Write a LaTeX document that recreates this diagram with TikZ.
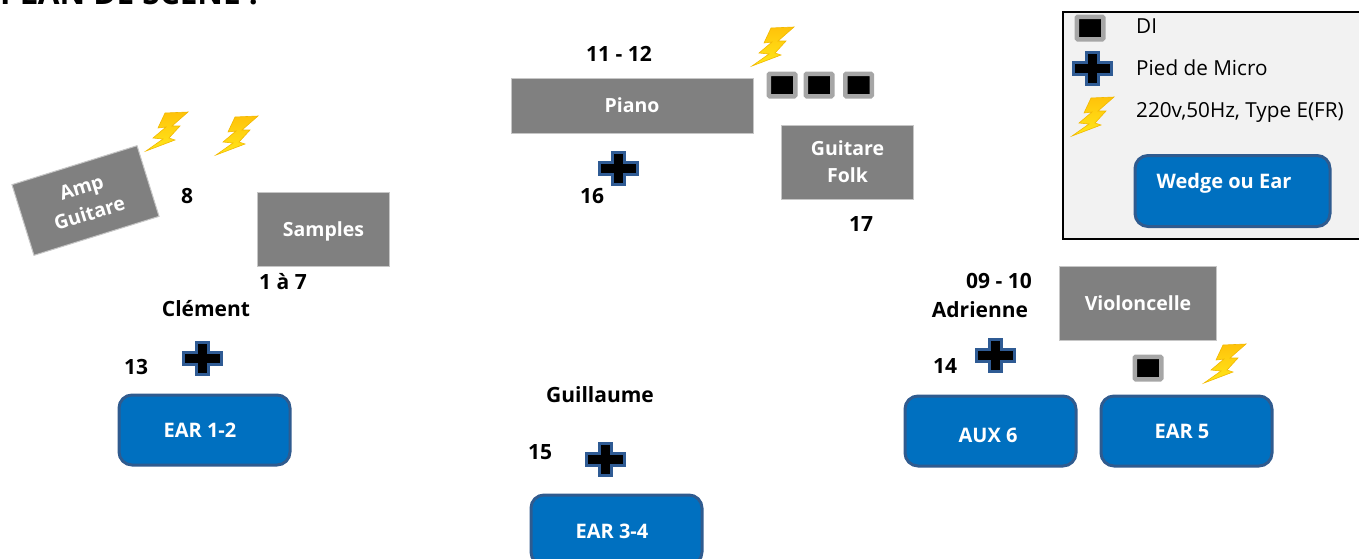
\documentclass[tikz,border=0pt]{standalone}
\usepackage{fontspec}
\setmainfont{Open Sans}
\definecolor{earblue}{HTML}{0070C0}
\definecolor{earedge}{HTML}{2F5B8F}
\definecolor{crossedge}{HTML}{2F5B94}
\definecolor{boxgrey}{HTML}{808080}
\definecolor{boltedge}{HTML}{F2B800}
\definecolor{bolttop}{HTML}{FFC20A}
\definecolor{boltlow}{HTML}{FFE81A}
\tikzset{
    label/.style={font=\bfseries\fontsize{21}{21}\selectfont, inner sep=0pt, text=black},
    legendtext/.style={font=\fontsize{20.7}{21}\selectfont, inner sep=0pt, anchor=west, text=black},
    greybox/.style={fill=boxgrey, draw=boxgrey!45, line width=1pt, inner sep=0pt, align=center,
        text=white, font=\bfseries\fontsize{19.5}{27}\selectfont},
    oneline/.style={text height=14pt, text depth=0pt},
    earbox/.style={fill=earblue, draw=earedge, line width=3pt, rounded corners=13pt, inner sep=0pt,
        minimum width=171pt, minimum height=70pt},
    eartext/.style={text=white, inner sep=0pt, font=\bfseries\fontsize{20}{20}\selectfont},
    dibox/.style={fill=black, draw=black!35, line width=4.5pt, rounded corners=1pt, inner sep=0pt,
        minimum width=26.5pt, minimum height=22.5pt},
    micro/.pic={
        \draw[fill=black, draw=crossedge, line width=3pt]
            (-19,-6) -- (-6,-6) -- (-6,-16) -- (6,-16) -- (6,-6) -- (19,-6)
            -- (19,6) -- (6,6) -- (6,16) -- (-6,16) -- (-6,6) -- (-19,6) -- cycle;
    },
    bolt/.pic={
        \draw[top color=bolttop, bottom color=boltlow, draw=boltedge, line width=0.6pt]
            (21,-20) -- (-2,-19) -- (-9,-4) -- (-1,-5) -- (-14,6) -- (-4,7) -- (-21,19)
            -- (8,8) -- (2,6) -- (13,-6) -- (5,-6) -- cycle;
    },
}
\begin{document}
\begin{tikzpicture}[x=1pt, y=-1pt]
    \path[use as bounding box, clip] (0,0) rectangle (1359,558);

    % titre
    \node[anchor=base west, inner sep=0pt, font=\bfseries\fontsize{31.5}{32}\selectfont] (titre) at (0,4.5) {PLAN DE SCENE :};

    % legende
    \node[fill=black!5, draw=black, line width=2pt, minimum width=320pt, minimum height=227pt,
        anchor=north west, inner sep=0pt] (legende) at (1062,11) {};
    \node[dibox] (legendeDI) at (1090,28) {};
    \pic at (1092,68) {micro};
    \pic at (1093,117) {bolt};
    \node[legendtext] (texteDI) at (1136,26) {DI};
    \node[legendtext] (texteMicro) at (1136,68) {Pied de Micro};
    \node[legendtext] (texteCourant) at (1136,112) {220v,50Hz, Type E(FR)};
    \node[earbox, minimum width=195pt, minimum height=71pt] (wedge) at (1232.5,191) {};
    \node[eartext] (texteWedge) at (1224,183) {Wedge ou Ear};

    % instruments
    \node[greybox, minimum width=131pt, minimum height=74pt, rotate=17.3] (amp) at (85.5,200.5) {Amp\\Guitare};
    \node[greybox, oneline, minimum width=132pt, minimum height=74pt] (samples) at (323.5,229) {Samples};
    \node[greybox, oneline, minimum width=242pt, minimum height=55pt] (piano) at (632,105.5) {Piano};
    \node[greybox, minimum width=132pt, minimum height=74pt] (folk) at (847.5,162) {Guitare\\Folk};
    \node[greybox, oneline, minimum width=157pt, minimum height=74pt] (violoncelle) at (1138,303) {Violoncelle};

    % boitiers DI
    \node[dibox] (diA) at (782,85) {};
    \node[dibox] (diB) at (819,85) {};
    \node[dibox] (diC) at (858.5,85) {};
    \node[dibox] (diD) at (1148,368) {};

    % pieds de micro
    \pic at (202,358) {micro};
    \pic at (618,168) {micro};
    \pic at (605,459) {micro};
    \pic at (995,355) {micro};

    % prises de courant
    \pic at (167,132) {bolt};
    \pic at (237,136) {bolt};
    \pic at (773,47) {bolt};
    \pic at (1225,364) {bolt};

    % retours
    \node[earbox] (earA) at (204.5,430) {};
    \node[eartext] (texteEarA) at (200,430) {EAR 1-2};
    \node[earbox] (earB) at (616.5,530) {};
    \node[eartext] (texteEarB) at (612,531) {EAR 3-4};
    \node[earbox] (aux) at (990.5,431) {};
    \node[eartext] (texteAux) at (988,435) {AUX 6};
    \node[earbox] (earC) at (1186.5,431) {};
    \node[eartext] (texteEarC) at (1182,431) {EAR 5};

    % numeros et noms
    \node[label] (numA) at (619,54) {11 - 12};
    \node[label] (numB) at (187,196) {8};
    \node[label] (numC) at (592,196) {16};
    \node[label] (numD) at (861,224) {17};
    \node[label] (numE) at (283,282) {1 à 7};
    \node[label] (numF) at (136,367) {13};
    \node[label] (numG) at (999,281) {09 - 10};
    \node[label] (numH) at (945,366) {14};
    \node[label] (numI) at (540,452) {15};
    \node[label] (clement) at (206,309) {Clément};
    \node[label] (adrienne) at (980,310) {Adrienne};
    \node[label] (guillaume) at (600,395) {Guillaume};
\end{tikzpicture}
\end{document}
